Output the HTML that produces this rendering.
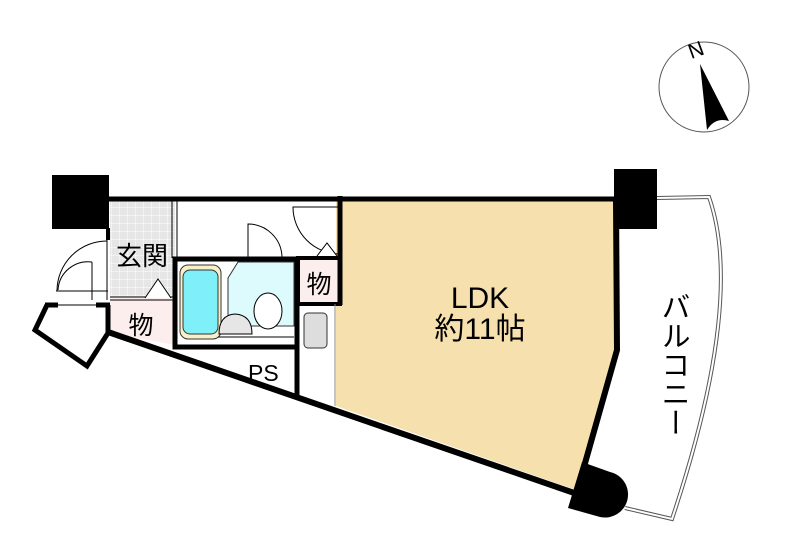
<!DOCTYPE html>
<html><head><meta charset="utf-8"><style>
html,body{margin:0;padding:0;background:#fff;width:800px;height:544px;overflow:hidden}
text{font-family:"Liberation Sans","Noto Sans CJK JP",sans-serif}
</style></head><body>
<svg width="800" height="544" viewBox="0 0 800 544" xmlns="http://www.w3.org/2000/svg">
<defs>
<pattern id="g" width="8" height="8" patternUnits="userSpaceOnUse">
<rect width="8" height="8" fill="#e6e6e6"/><path d="M8 0V8M0 8H8" stroke="#fff" stroke-width="1"/>
</pattern>
</defs>
<circle cx="704" cy="87" r="45" fill="#fff" stroke="#555" stroke-width="1"/>
<text x="696" y="57" font-family="Liberation Serif,serif" font-size="21" transform="rotate(-20 696 50)" text-anchor="middle">N</text>
<path d="M700 64 L729 121 Q715 117 707 130 Z" fill="#000"/>
<path d="M657 198 L709 197 Q745 300 672 519 L625 508" fill="none" stroke="#555" stroke-width="4"/>
<path d="M657 198 L709 197 Q745 300 672 519 L625 508" fill="none" stroke="#fff" stroke-width="2"/>
<text x="673" y="292" font-size="29" style="writing-mode:vertical-rl">バルコニー</text>
<path d="M336 200 L615 200 L615 350 L576 490 L336 406 Z" fill="#f6e0ad"/>
<rect x="110" y="200" width="65" height="97" fill="url(#g)"/>
<path d="M110 297 L175 297 L175 345 L110 333 Z" fill="#fdeeee"/>
<rect x="298" y="258" width="42" height="46" fill="#fdeeee"/>
<rect x="175" y="259" width="122" height="88" fill="#fff" stroke="#000" stroke-width="5"/>
<path d="M238 262 L294 262 L294 326 L228 326 L228 278 Z" fill="#ddfafc" stroke="#333" stroke-width="1"/>
<rect x="180" y="265" width="41" height="74" rx="8" fill="#f7f0c8" stroke="#333" stroke-width="1"/>
<rect x="183" y="270" width="35" height="64" rx="7" fill="#7ff0fa" stroke="#333" stroke-width="1"/>
<ellipse cx="268" cy="311" rx="14" ry="18" fill="#fff" stroke="#000"/>
<path d="M219 334 Q219 315 235 314 Q252 315 252 334 Z" fill="#e6e6e6" stroke="#000"/>
<line x1="218" y1="337" x2="294" y2="337" stroke="#000"/>
<rect x="298" y="258" width="42" height="46" fill="none" stroke="#000" stroke-width="4"/>
<rect x="304" y="313" width="23" height="35" rx="4" fill="#ddd" stroke="#333"/>
<line x1="335" y1="304" x2="335" y2="406" stroke="#888" stroke-width="1"/>
<line x1="297" y1="347" x2="297" y2="396" stroke="#000" stroke-width="5"/>
<text x="248" y="381" font-size="23">PS</text>
<line x1="172" y1="200" x2="172" y2="258" stroke="#000" stroke-width="1"/>
<line x1="177" y1="200" x2="177" y2="258" stroke="#000" stroke-width="1"/>
<line x1="110" y1="297" x2="175" y2="297" stroke="#000" stroke-width="1"/>
<line x1="110" y1="300" x2="175" y2="300" stroke="#000" stroke-width="1"/>
<path d="M145 298 L158 279 L171 298" fill="#fff" stroke="#000"/>
<line x1="175" y1="296" x2="175" y2="345" stroke="#000" stroke-width="5"/>
<path d="M248 258 L248 224 A34 34 0 0 1 282 258" fill="none" stroke="#000"/>
<path d="M340 207 L293 207 A47 47 0 0 0 340 254" fill="none" stroke="#000"/>
<path d="M317 256 L327 243 L337 256" fill="#fff" stroke="#000"/>
<path d="M107 241 A50 50 0 0 0 57 291" fill="none" stroke="#000"/>
<path d="M92 262 L92 300 M92 262 A30 30 0 0 0 58 290" fill="none" stroke="#000"/>
<line x1="56" y1="291" x2="108" y2="291" stroke="#000"/>
<line x1="107" y1="228" x2="107" y2="300" stroke="#000"/>
<path d="M47 305 L35 330 L87 366 L108 333 L108 305" fill="none" stroke="#000" stroke-width="5"/>
<line x1="45" y1="305" x2="58" y2="305" stroke="#000" stroke-width="5"/>
<line x1="96" y1="305" x2="110" y2="305" stroke="#000" stroke-width="5"/>
<line x1="58" y1="305" x2="96" y2="305" stroke="#000" stroke-width="1"/>
<line x1="108" y1="199" x2="615" y2="199" stroke="#000" stroke-width="5"/>
<line x1="340" y1="196" x2="340" y2="305" stroke="#000" stroke-width="5"/>
<path d="M616 200 L617 350 L578 488" fill="none" stroke="#000" stroke-width="6"/>
<path d="M108 332 L580 495" fill="none" stroke="#000" stroke-width="6"/>
<line x1="108" y1="228" x2="108" y2="240" stroke="#000" stroke-width="4"/>
<rect x="52" y="175" width="57" height="54" fill="#000"/>
<rect x="614" y="169" width="43" height="60" fill="#000"/>
<path d="M582 462 L610 472 A23 23 0 0 1 600 517 L568 508 Z" fill="#000"/>
<text x="142" y="265" font-size="26" text-anchor="middle">玄関</text>
<text x="141" y="334" font-size="25" text-anchor="middle">物</text>
<text x="319" y="293" font-size="25" text-anchor="middle">物</text>
<text x="480" y="308" font-size="30" text-anchor="middle">LDK</text>
<text x="480" y="339" font-size="30" text-anchor="middle">約11帖</text>
</svg>
</body></html>
